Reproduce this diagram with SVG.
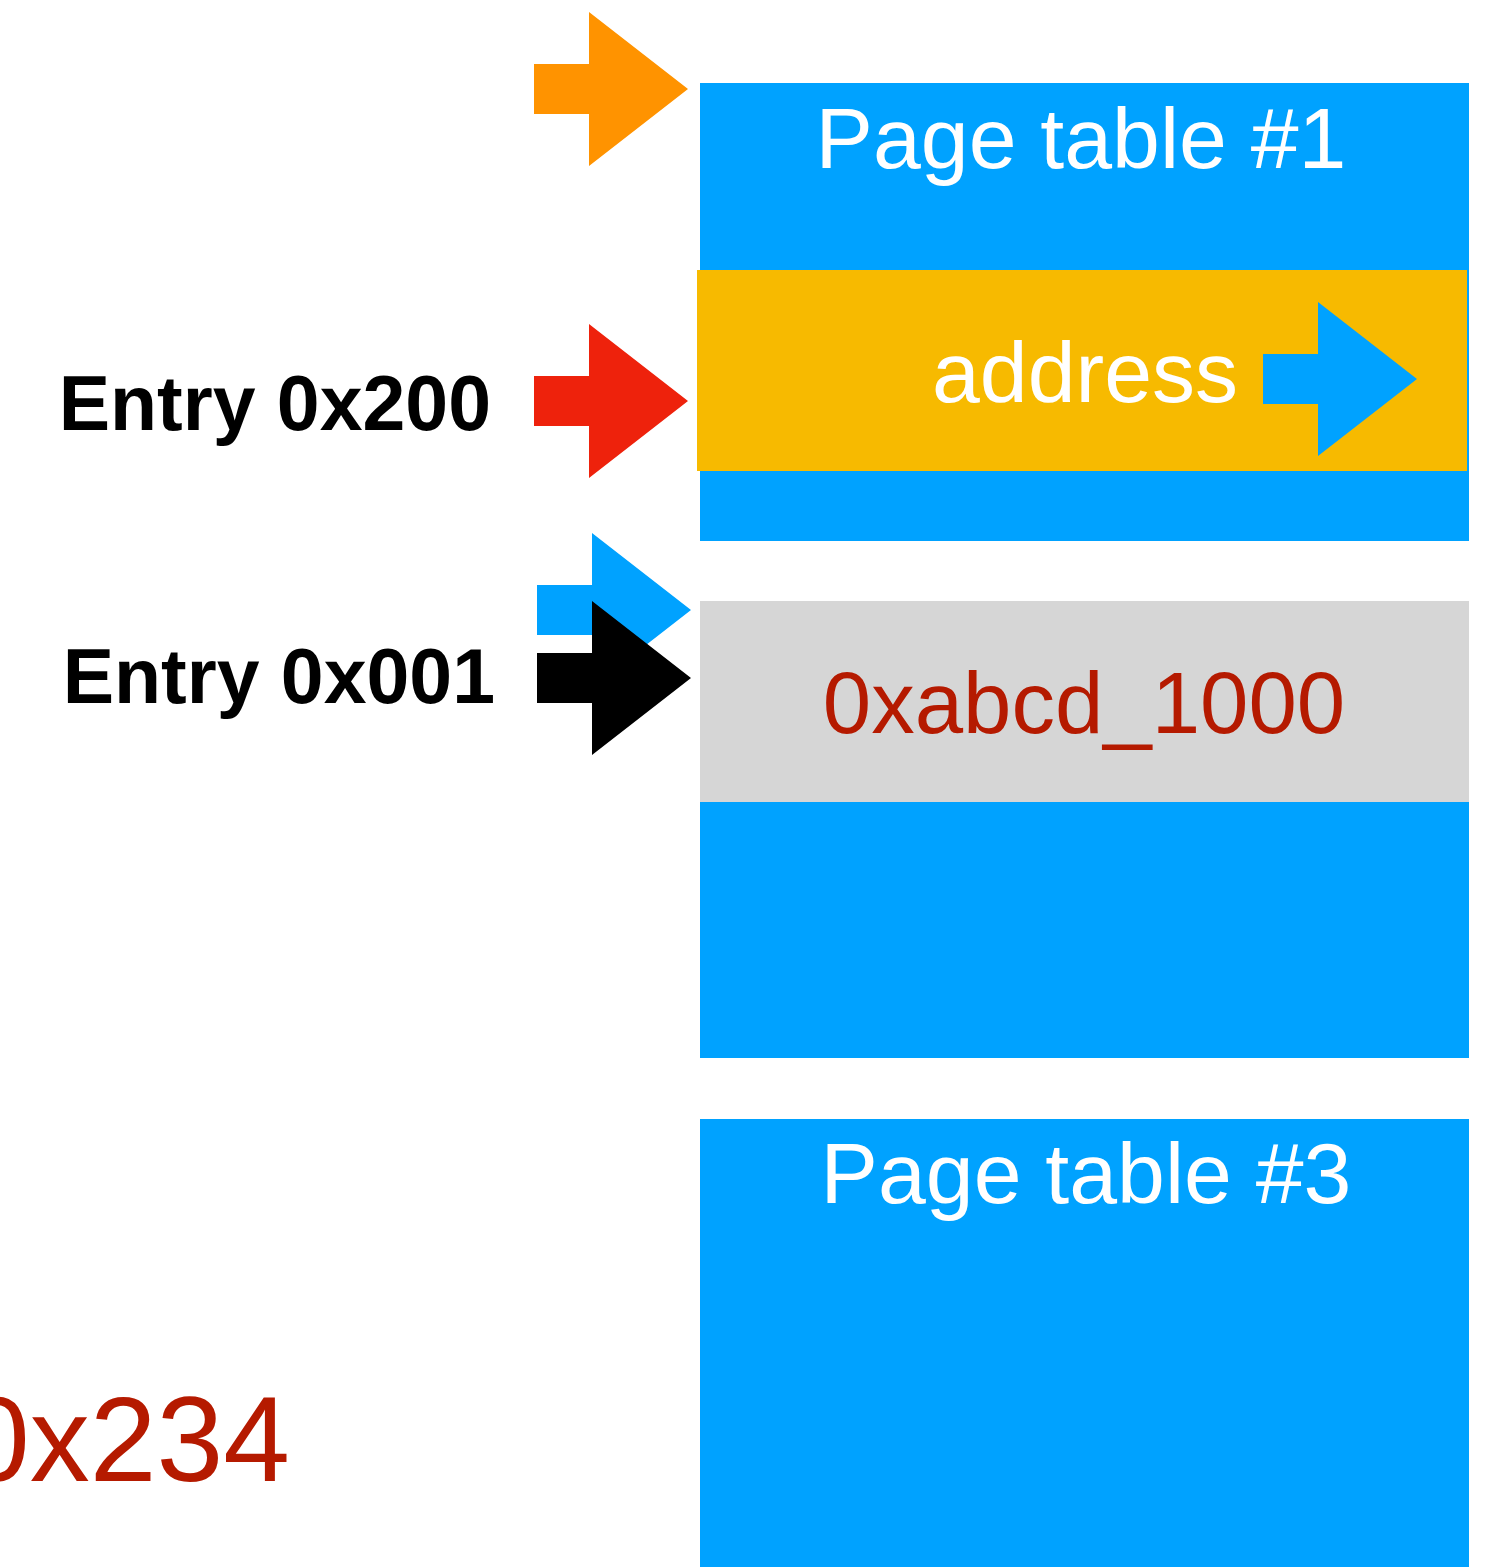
<svg xmlns="http://www.w3.org/2000/svg" width="1485" height="1567" viewBox="0 0 1485 1567">
  <style>
    .tbl { fill: #00A2FF; }
    .entry { fill: #F7BA00; }
    .pte { fill: #D6D6D6; }
    .lbl { font-family: "Liberation Sans", Arial, Helvetica, sans-serif; }
    .white { fill: #FFFFFF; font-size: 86px; }
    .addr { fill: #B51A00; }
    .bold { font-weight: bold; fill: #000000; font-size: 77px; }
  </style>
  <defs>
    <!-- block arrow pointing right, origin at the shaft's left end on the centre line -->
    <path id="blockArrow" d="M0,-25 H55 V-77 L154,0 L55,77 V25 H0 Z"/>
  </defs>
  <rect width="1485" height="1567" fill="#FFFFFF"/>

  <!-- page table #1 with the selected entry -->
  <g id="page-table-1">
    <rect class="tbl" x="700" y="83" width="769" height="458"/>
    <text class="lbl white" x="1081" y="168" text-anchor="middle">Page table #1</text>
  </g>
  <g id="entry-0x200">
    <rect class="entry" x="697" y="270" width="770" height="201"/>
    <text class="lbl white" x="1238" y="402" font-size="88" text-anchor="end">address</text>
  </g>

  <!-- page table #2 and its entry -->
  <g id="page-table-2">
    <rect class="tbl" x="700" y="601" width="769" height="457"/>
  </g>
  <g id="entry-0x001">
    <rect class="pte" x="700" y="601" width="769" height="201"/>
    <text class="lbl addr" x="1084" y="733" font-size="87" text-anchor="middle">0xabcd_1000</text>
  </g>

  <!-- page table #3 -->
  <g id="page-table-3">
    <rect class="tbl" x="700" y="1119" width="769" height="448"/>
    <text class="lbl white" x="1086" y="1203" font-size="87" text-anchor="middle">Page table #3</text>
  </g>

  <!-- side labels -->
  <g id="label-entry-0x200">
    <text class="lbl bold" x="491" y="430" text-anchor="end">Entry 0x200</text>
  </g>
  <g id="label-entry-0x001">
    <text class="lbl bold" x="495" y="703" text-anchor="end">Entry 0x001</text>
  </g>
  <g id="label-offset">
    <text class="lbl addr" x="290" y="1481" font-size="120" text-anchor="end">0x234</text>
  </g>

  <!-- arrows -->
  <g id="connectors">
    <use href="#blockArrow" transform="translate(534,89)" fill="#FF9300"/>
    <use href="#blockArrow" transform="translate(534,401)" fill="#EE220C"/>
    <use href="#blockArrow" transform="translate(1263,379)" fill="#00A2FF"/>
    <use href="#blockArrow" transform="translate(537,610)" fill="#00A2FF"/>
    <use href="#blockArrow" transform="translate(537,678)" fill="#000000"/>
  </g>
</svg>
